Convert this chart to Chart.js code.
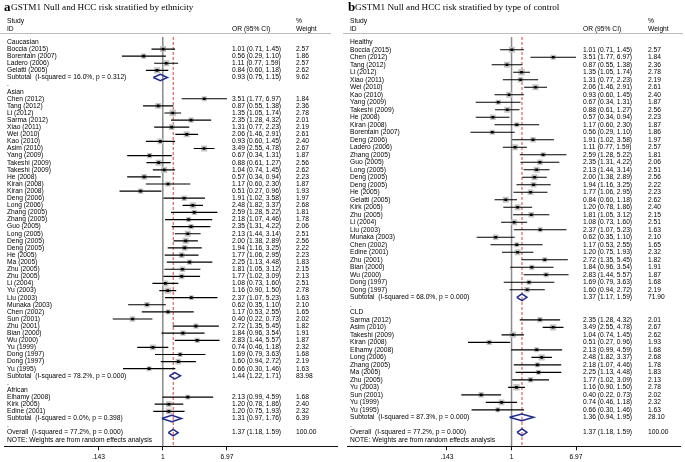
<!DOCTYPE html>
<html>
<head>
<meta charset="utf-8">
<script src="https://cdn.jsdelivr.net/npm/chart.js@4.4.0/dist/chart.umd.min.js"></script>
<style>
html, body { margin: 0; padding: 0; background: #fff; }
#wrap { position: relative; width: 685px; height: 462px; }
canvas { position: absolute; top: 0; }
#chartA { left: 0; }
#chartB { left: 343px; }
</style>
</head>
<body>
<div id="wrap">
  <canvas id="chartA" width="342" height="462"></canvas>
  <canvas id="chartB" width="342" height="462"></canvas>
</div>
<script>
// ---- panel a: stratified by ethnicity ----
var ethLabels = [
    'Caucasian', 'Boccia (2015)', 'Borentain (2007)', 'Ladero (2006)', 'Gelatti (2005)',
    'Subtotal  (I-squared = 16.0%, p = 0.312)', '.',
    'Asian', 'Chen (2012)', 'Tang (2012)', 'Li (2012)', 'Sarma (2012)', 'Xiao (2011)', 'Wei (2010)',
    'Kao (2010)', 'Asim (2010)', 'Yang (2009)', 'Takeshi (2009)', 'Takeshi (2009)', 'He (2008)',
    'Kiran (2008)', 'Kiran (2008)', 'Deng (2006)', 'Long (2006)', 'Zhang (2005)', 'Zhang (2005)',
    'Guo (2005)', 'Long (2005)', 'Deng (2005)', 'Deng (2005)', 'He (2005)', 'Ma (2005)', 'Zhu (2005)',
    'Zhu (2005)', 'Li (2004)', 'Yu (2003)', 'Liu (2003)', 'Munaka (2003)', 'Chen (2002)', 'Sun (2001)',
    'Zhu (2001)', 'Bian (2000)', 'Wu (2000)', 'Yu (1999)', 'Dong (1997)', 'Dong (1997)', 'Yu (1995)',
    'Subtotal  (I-squared = 78.2%, p = 0.000)', '.',
    'African', 'Elhamy (2008)', 'Kirk (2005)', 'Edine (2001)',
    'Subtotal  (I-squared = 0.0%, p = 0.398)', '.',
    'Overall  (I-squared = 77.2%, p = 0.000)'
];
var ethOR = [
    null, 1.01, 0.56, 1.11, 0.84, 0.93, null,
    null, 3.51, 0.87, 1.35, 2.35, 1.31, 2.06, 0.93, 3.49, 0.67, 0.88, 1.04, 0.57, 1.17, 0.51,
    1.91, 2.48, 2.59, 2.18, 2.35, 2.13, 2.00, 1.94, 1.77, 2.25, 1.81, 1.77, 1.08, 1.16, 2.37,
    0.62, 1.17, 0.40, 2.72, 1.84, 2.83, 0.74, 1.69, 1.60, 0.66, 1.44, null,
    null, 2.13, 1.20, 1.20, 1.31, null,
    1.37
];
var ethLow = [
    null, 0.71, 0.29, 0.77, 0.60, 0.75, null,
    null, 1.77, 0.55, 1.05, 1.28, 0.77, 1.46, 0.60, 2.55, 0.34, 0.61, 0.74, 0.34, 0.60, 0.27,
    1.02, 1.82, 1.28, 1.07, 1.31, 1.44, 1.38, 1.16, 1.06, 1.13, 1.05, 1.02, 0.73, 0.90, 1.07,
    0.35, 0.53, 0.22, 1.35, 0.96, 1.44, 0.46, 0.79, 0.94, 0.30, 1.22, null,
    null, 0.99, 0.78, 0.75, 0.97, null,
    1.18
];
var ethHigh = [
    null, 1.45, 1.10, 1.59, 1.18, 1.15, null,
    null, 6.97, 1.38, 1.74, 4.32, 2.23, 2.91, 1.45, 4.78, 1.31, 1.27, 1.45, 0.94, 2.30, 0.96,
    3.58, 3.37, 5.22, 4.46, 4.22, 3.14, 2.89, 3.25, 2.95, 4.48, 3.12, 3.09, 1.60, 1.50, 5.23,
    1.10, 2.55, 0.73, 5.45, 3.54, 5.57, 1.18, 3.63, 2.72, 1.46, 1.71, null,
    null, 4.59, 1.86, 1.93, 1.76, null,
    1.59
];
var ethWeight = [
    null, 2.57, 1.86, 2.57, 2.62, 9.62, null,
    null, 1.84, 2.36, 2.78, 2.01, 2.19, 2.61, 2.40, 2.67, 1.87, 2.56, 2.62, 2.23, 1.87, 1.93,
    1.97, 2.68, 1.81, 1.78, 2.06, 2.51, 2.56, 2.22, 2.23, 1.83, 2.15, 2.13, 2.51, 2.78, 1.63,
    2.10, 1.65, 2.02, 1.82, 1.91, 1.87, 2.32, 1.68, 2.19, 1.63, 83.98, null,
    null, 1.68, 2.40, 2.32, 6.39, null,
    100.00
];

// ---- panel b: stratified by type of control ----
var ctrlLabels = [
    'Healthy', 'Boccia (2015)', 'Chen (2012)', 'Tang (2012)', 'Li (2012)', 'Xiao (2011)', 'Wei (2010)',
    'Kao (2010)', 'Yang (2009)', 'Takeshi (2009)', 'He (2008)', 'Kiran (2008)', 'Borentain (2007)',
    'Deng (2006)', 'Ladero (2006)', 'Zhang (2005)', 'Guo (2005)', 'Long (2005)', 'Deng (2005)',
    'Deng (2005)', 'He (2005)', 'Gelatti (2005)', 'Kirk (2005)', 'Zhu (2005)', 'Li (2004)', 'Liu (2003)',
    'Munaka (2003)', 'Chen (2002)', 'Edine (2001)', 'Zhu (2001)', 'Bian (2000)', 'Wu (2000)',
    'Dong (1997)', 'Dong (1997)',
    'Subtotal  (I-squared = 68.0%, p = 0.000)', '.',
    'CLD', 'Sarma (2012)', 'Asim (2010)', 'Takeshi (2009)', 'Kiran (2008)', 'Elhamy (2008)',
    'Long (2006)', 'Zhang (2005)', 'Ma (2005)', 'Zhu (2005)', 'Yu (2003)', 'Sun (2001)', 'Yu (1999)',
    'Yu (1995)',
    'Subtotal  (I-squared = 87.3%, p = 0.000)', '.',
    'Overall  (I-squared = 77.2%, p = 0.000)'
];
var ctrlOR = [
    null, 1.01, 3.51, 0.87, 1.35, 1.31, 2.06, 0.93, 0.67, 0.88, 0.57, 1.17, 0.56, 1.91, 1.11, 2.59,
    2.35, 2.13, 2.00, 1.94, 1.77, 0.84, 1.20, 1.81, 1.08, 2.37, 0.62, 1.17, 1.20, 2.72, 1.84, 2.83,
    1.69, 1.60, 1.37, null,
    null, 2.35, 3.49, 1.04, 0.51, 2.13, 2.48, 2.18, 2.25, 1.77, 1.16, 0.40, 0.74, 0.66, 1.36, null,
    1.37
];
var ctrlLow = [
    null, 0.71, 1.77, 0.55, 1.05, 0.77, 1.46, 0.60, 0.34, 0.61, 0.34, 0.60, 0.29, 1.02, 0.77, 1.28,
    1.31, 1.44, 1.38, 1.16, 1.06, 0.60, 0.78, 1.05, 0.73, 1.07, 0.35, 0.53, 0.75, 1.35, 0.96, 1.44,
    0.79, 0.94, 1.17, null,
    null, 1.28, 2.55, 0.74, 0.27, 0.99, 1.82, 1.07, 1.13, 1.02, 0.90, 0.22, 0.46, 0.30, 0.94, null,
    1.18
];
var ctrlHigh = [
    null, 1.45, 6.97, 1.38, 1.74, 2.23, 2.91, 1.45, 1.31, 1.27, 0.94, 2.30, 1.10, 3.58, 1.59, 5.22,
    4.22, 3.14, 2.89, 3.25, 2.95, 1.18, 1.86, 3.12, 1.60, 5.23, 1.10, 2.55, 1.93, 5.45, 3.54, 5.57,
    3.63, 2.72, 1.59, null,
    null, 4.32, 4.78, 1.45, 0.96, 4.59, 3.37, 4.46, 4.48, 3.09, 1.50, 0.73, 1.18, 1.46, 1.95, null,
    1.59
];
var ctrlWeight = [
    null, 2.57, 1.84, 2.36, 2.78, 2.19, 2.61, 2.40, 1.87, 2.56, 2.23, 1.87, 1.86, 1.97, 2.57, 1.81,
    2.06, 2.51, 2.56, 2.22, 2.23, 2.62, 2.40, 2.15, 2.51, 1.63, 2.10, 1.65, 2.32, 1.82, 1.91, 1.87,
    1.68, 2.19, 71.90, null,
    null, 2.01, 2.67, 2.62, 1.93, 1.68, 2.68, 1.78, 1.83, 2.13, 2.78, 2.02, 2.32, 1.63, 28.10, null,
    100.00
];

var tickValues = [0.143, 1, 6.97];
var tickLabels = ['.143', '1', '6.97'];
var noteText = 'NOTE: Weights are from random effects analysis';

var SANS = '"Liberation Sans", Arial, sans-serif';
var SERIF = '"Liberation Serif", "Times New Roman", serif';

function fmt(v) { return v.toFixed(2); }

function makeForest(canvasId, p) {
    var n = p.labels.length;
    var ciLines = [], boxPts = [], dotPts = [], diamonds = [], overall = 1;

    for (var i = 0; i < n; i++) {
        var or = p.or[i];
        if (or == null) continue;
        if (/^(Subtotal|Overall)/.test(p.labels[i])) {
            diamonds.push([
                {x: p.lo[i], y: i}, {x: or, y: i - 0.45}, {x: p.hi[i], y: i},
                {x: or, y: i + 0.45}, {x: p.lo[i], y: i}
            ]);
            if (/^Overall/.test(p.labels[i])) overall = or;
        } else {
            // go out and back so the segment is not treated as a sorted pair
            ciLines.push([{x: p.lo[i], y: i}, {x: p.hi[i], y: i}, {x: p.lo[i], y: i}]);
            boxPts.push({x: or, y: i, w: p.wt[i]});
            dotPts.push({x: or, y: i});
        }
    }

    // pixel layout of the panel
    var left = p.padLeft, right = 342 - p.padRight;
    var xmin = Math.exp((left - p.oneX) / p.pxPerLn);
    var xmax = Math.exp((right - p.oneX) / p.pxPerLn);
    var ymin = (33 - p.rowY0) / p.rowH;
    var ymax = (449 - p.rowY0) / p.rowH;
    var lineTop = (37 - p.rowY0) / p.rowH;

    var datasets = [
        {
            type: 'scatter', showLine: true,
            data: [{x: 1, y: lineTop}, {x: 1, y: ymax}],
            borderColor: '#8a8a8a', borderWidth: 1.5, pointRadius: 0, order: 10
        },
        {
            type: 'scatter', showLine: true,
            data: [{x: overall, y: lineTop}, {x: overall, y: ymax}],
            borderColor: '#d8403a', borderWidth: 1, borderDash: [3, 2], pointRadius: 0, order: 9
        },
        {
            type: 'scatter', showLine: false,
            data: boxPts, pointStyle: 'rect',
            pointRadius: function(c) { return c.raw ? 3.8 * Math.sqrt(c.raw.w) / Math.SQRT2 : 0; },
            backgroundColor: '#c4c4c4', borderWidth: 0, order: 6
        },
        {
            type: 'scatter', showLine: false,
            data: dotPts, pointStyle: 'rect', pointRadius: 1.9,
            backgroundColor: '#000', borderWidth: 0, order: 4
        }
    ];
    ciLines.forEach(function(seg) {
        datasets.push({
            type: 'scatter', showLine: true,
            data: seg, borderColor: '#000', borderWidth: 1.2, pointRadius: 0, order: 5
        });
    });
    diamonds.forEach(function(d) {
        datasets.push({
            type: 'scatter', showLine: true,
            data: d, borderColor: '#1f2b8f', borderWidth: 1.5, pointRadius: 0,
            borderJoinStyle: 'miter', order: 2
        });
    });

    var textPlugin = {
        id: 'forestText',
        afterDraw: function(chart) {
            var ctx = chart.ctx, ys = chart.scales.y;
            ctx.save();
            ctx.fillStyle = '#000';
            ctx.textBaseline = 'alphabetic';
            ctx.font = 'bold 13px ' + SERIF;
            ctx.fillText(p.letter, p.letterX, 10.5);
            ctx.font = '9.2px ' + SERIF;
            ctx.fillText(p.title, p.titleX, 10);

            ctx.font = '6.7px ' + SANS;
            ctx.textBaseline = 'middle';
            ctx.fillText('Study', p.labX, 21);
            ctx.fillText('ID', p.labX, 29);
            ctx.fillText('OR (95% CI)', p.orX, 29);
            ctx.fillText('%', p.wtX, 21);
            ctx.fillText('Weight', p.wtX, 29);

            for (var i = 0; i < n; i++) {
                var py = ys.getPixelForValue(i);
                ctx.fillText(p.labels[i], p.labX, py);
                if (p.or[i] != null) {
                    ctx.fillText(fmt(p.or[i]) + ' (' + fmt(p.lo[i]) + ', ' + fmt(p.hi[i]) + ')', p.orX, py);
                    ctx.fillText(fmt(p.wt[i]), p.wtX, py);
                }
            }
            ctx.fillText(noteText, p.labX, ys.getPixelForValue(n));

            ctx.strokeStyle = '#bcbcbc';
            ctx.lineWidth = 1;
            ctx.beginPath();
            ctx.moveTo(0, 33.5);
            ctx.lineTo(p.ruleEnd, 33.5);
            ctx.stroke();
            ctx.restore();
        }
    };

    return new Chart(document.getElementById(canvasId), {
        type: 'scatter',
        data: {datasets: datasets},
        options: {
            responsive: false,
            animation: false,
            devicePixelRatio: 1,
            events: [],
            layout: {padding: {top: 33, left: p.padLeft, right: p.padRight, bottom: -1}},
            plugins: {legend: {display: false}, tooltip: {enabled: false}},
            scales: {
                x: {
                    type: 'logarithmic',
                    min: xmin,
                    max: xmax,
                    afterBuildTicks: function(s) {
                        s.ticks = tickValues.map(function(v) { return {value: v}; });
                    },
                    ticks: {
                        callback: function(v, idx) { return tickLabels[idx]; },
                        font: {family: SANS, size: 6.7, lineHeight: 1},
                        color: '#000', padding: 3, maxRotation: 0, autoSkip: false
                    },
                    grid: {drawOnChartArea: false, tickLength: 4, color: '#111'},
                    border: {color: '#111', width: 1}
                },
                y: {type: 'linear', reverse: true, min: ymin, max: ymax, display: false}
            }
        },
        plugins: [textPlugin]
    });
}

makeForest('chartA', {
    labels: ethLabels, or: ethOR, lo: ethLow, hi: ethHigh, wt: ethWeight,
    letter: 'a', letterX: 4, title: 'GSTM1 Null and HCC risk stratified by ethnicity', titleX: 11,
    padLeft: 2, padRight: 5, oneX: 161.5, pxPerLn: 33.3, rowY0: 42, rowH: 7.15,
    labX: 7, orX: 232, wtX: 296, ruleEnd: 331
});

makeForest('chartB', {
    labels: ctrlLabels, or: ctrlOR, lo: ctrlLow, hi: ctrlHigh, wt: ctrlWeight,
    letter: 'b', letterX: 5, title: 'GSTM1 Null and HCC risk stratified by type of control', titleX: 12,
    padLeft: 1, padRight: 2, oneX: 168, pxPerLn: 33.8, rowY0: 42.3, rowH: 7.55,
    labX: 7, orX: 240, wtX: 305, ruleEnd: 340
});
</script>
</body>
</html>
